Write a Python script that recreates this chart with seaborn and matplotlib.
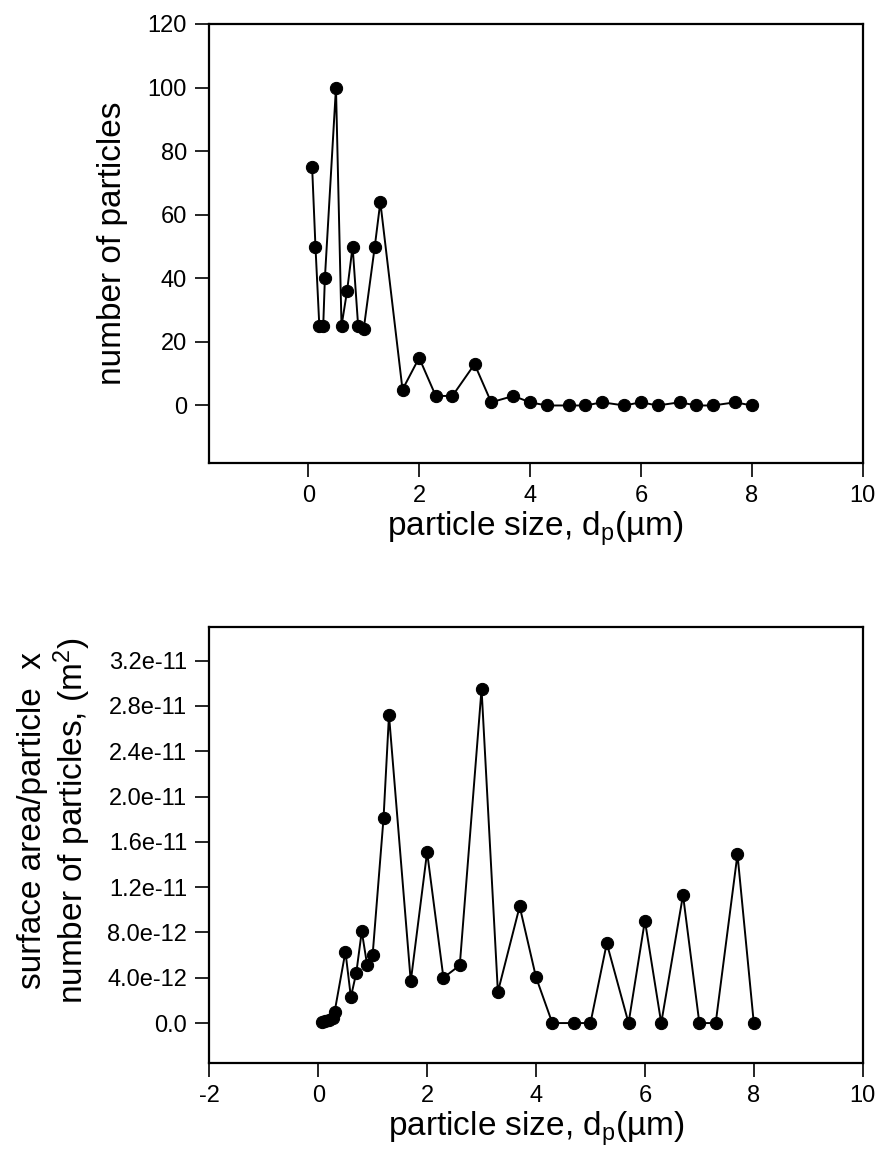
import matplotlib
matplotlib.use("Agg")
import matplotlib.pyplot as plt
import seaborn as sns
import pandas as pd

# ---- data ----
particle_size = [0.07, 0.13, 0.2, 0.27, 0.3, 0.5, 0.6, 0.7, 0.8, 0.9, 1.0, 1.2, 1.3,
                 1.7, 2.0, 2.3, 2.6, 3.0, 3.3, 3.7, 4.0, 4.3, 4.7, 5.0, 5.3, 5.7,
                 6.0, 6.3, 6.7, 7.0, 7.3, 7.7, 8.0]
number_of_particles = [75, 50, 25, 25, 40, 100, 25, 36, 50, 25, 24, 50, 64,
                       5, 15, 3, 3, 13, 1, 3, 1, 0, 0, 0, 1, 0,
                       1, 0, 1, 0, 0, 1, 0]
surface_area_total = [0.09e-12, 0.2e-12, 0.25e-12, 0.45e-12, 0.95e-12, 6.3e-12, 2.3e-12,
                      4.45e-12, 8.1e-12, 5.1e-12, 6.05e-12, 18.1e-12, 27.2e-12,
                      3.68e-12, 15.1e-12, 4.0e-12, 5.1e-12, 29.5e-12, 2.75e-12,
                      10.3e-12, 4.05e-12, 0.0, 0.0, 0.0, 7.05e-12, 0.0,
                      9.05e-12, 0.0, 11.3e-12, 0.0, 0.0, 14.9e-12, 0.0]

top_yticks = [0, 20, 40, 60, 80, 100, 120]
top_xticks = [0, 2, 4, 6, 8, 10]
bot_xticks = [-2, 0, 2, 4, 6, 8, 10]
bot_yticks = [0.0, 4.0e-12, 8.0e-12, 1.2e-11, 1.6e-11, 2.0e-11, 2.4e-11, 2.8e-11, 3.2e-11]
bot_yticklabels = ["0.0", "4.0e-12", "8.0e-12", "1.2e-11", "1.6e-11",
                   "2.0e-11", "2.4e-11", "2.8e-11", "3.2e-11"]

df = pd.DataFrame({"d": particle_size, "n": number_of_particles, "s": surface_area_total})

sns.set_style("ticks")
plt.rcParams["font.family"] = ["Liberation Sans", "DejaVu Sans"]
plt.rcParams["mathtext.fontset"] = "custom"
plt.rcParams["mathtext.rm"] = "Liberation Sans"
plt.rcParams["mathtext.it"] = "Liberation Sans"
plt.rcParams["text.color"] = "black"
plt.rcParams["axes.labelcolor"] = "black"
plt.rcParams["xtick.color"] = "black"
plt.rcParams["ytick.color"] = "black"
plt.rcParams["axes.unicode_minus"] = False

W, H = 881, 1171
fig = plt.figure(figsize=(W / 100, H / 100), dpi=100)

def px_axes(left, top, right, bottom):
    return fig.add_axes([left / W, 1 - bottom / H, (right - left) / W, (bottom - top) / H])

ax1 = px_axes(209, 24, 862.7, 462.7)
ax2 = px_axes(209.3, 626.7, 862.7, 1062.7)

line_kw = dict(color="black", marker="o", markersize=8.8, markeredgecolor="black",
               markerfacecolor="black", linewidth=1.4)

sns.lineplot(data=df, x="d", y="n", ax=ax1, **line_kw)
sns.lineplot(data=df, x="d", y="s", ax=ax2, **line_kw)

tick_fs = 17
label_fs = 24

for ax in (ax1, ax2):
    for sp in ax.spines.values():
        sp.set_linewidth(1.6)
        sp.set_color("black")
    ax.tick_params(direction="out", length=10, width=1.2, labelsize=tick_fs,
                   colors="black", labelcolor="black", pad=6)

ax1.set_xlim(-1.79, 10)
ax1.set_ylim(-18, 120)
ax1.set_xticks(top_xticks)
ax1.set_yticks(top_yticks)
ax1.set_xlabel("particle size, d$_\\mathrm{p}$(\u00b5m)", fontsize=label_fs, labelpad=2)
ax1.set_ylabel("number of particles", fontsize=label_fs, labelpad=14)

ax2.set_xlim(-2, 10)
ax2.set_ylim(-3.5e-12, 3.5e-11)
ax2.set_xticks(bot_xticks)
ax2.set_yticks(bot_yticks)
ax2.set_yticklabels(bot_yticklabels)
ax2.set_xlabel("particle size, d$_\\mathrm{p}$(\u00b5m)", fontsize=label_fs, labelpad=2)
ax2.set_ylabel("surface area/particle  x\nnumber of particles, (m$^2$)",
               fontsize=label_fs, linespacing=1.1)
ax2.yaxis.set_label_coords(-0.178, 0.555)

fig.savefig("out.png", dpi=100)
